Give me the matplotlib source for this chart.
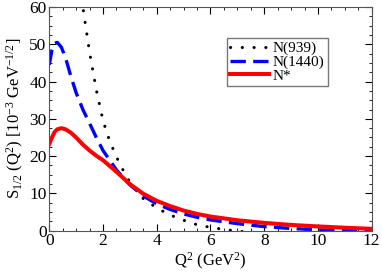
import numpy as np
import matplotlib.pyplot as plt
from matplotlib.ticker import MultipleLocator

plt.rcParams['font.family'] = 'Liberation Serif'
plt.rcParams['mathtext.fontset'] = 'custom'
plt.rcParams['mathtext.rm'] = 'Liberation Serif'
plt.rcParams['mathtext.it'] = 'Liberation Serif:italic'

# N(939), dotted black (goes off the top for small Q2)
q2_939 = [0.8, 1.0, 1.25, 1.5, 1.75, 2.0, 2.25, 2.5, 2.75, 3.0, 3.5, 4.0, 4.5, 5.0,
          5.5, 6.0, 6.5, 7.0, 8.0, 9.0, 10.0, 11.0, 12.0]
s_939 = [90, 75, 60, 47.8, 37.8, 29.5, 24.0, 19.8, 16.2, 13.0, 8.6, 6.1, 4.2, 2.8,
         1.6, 0.9, 0.35, -0.1, -0.7, -1.0, -1.2, -1.2, -1.2]

# N(1440), dashed blue
q2_1440 = [0, 0.1, 0.2, 0.3, 0.45, 0.6, 0.8, 1.0, 1.25, 1.5, 1.75, 2.0, 2.5, 3.0,
           3.5, 4.0, 4.5, 5.0, 5.5, 6.0, 7.0, 8.0, 9.0, 10.0, 11.0, 12.0]
s_1440 = [44.5, 48.5, 50.3, 50.5, 49.2, 46.5, 41.5, 37.0, 32.5, 28.8, 25.0, 21.5, 16.3, 12.3,
          9.3, 7.2, 5.7, 4.5, 3.6, 2.9, 1.9, 1.1, 0.6, 0.25, 0.0, -0.2]

# N*, solid red
q2_star = [0, 0.1, 0.2, 0.3, 0.45, 0.6, 0.8, 1.0, 1.25, 1.5, 1.75, 2.0, 2.5, 3.0,
           3.5, 4.0, 4.5, 5.0, 5.5, 6.0, 7.0, 8.0, 9.0, 10.0, 11.0, 12.0]
s_star = [23.3, 25.0, 26.5, 27.2, 27.5, 27.2, 26.3, 25.0, 23.1, 21.5, 20.1, 18.9, 15.8, 12.5,
          9.9, 8.0, 6.6, 5.4, 4.5, 3.8, 2.8, 2.1, 1.55, 1.15, 0.8, 0.5]

fig = plt.figure(figsize=(3.82, 2.74), dpi=100)
ax = fig.add_axes([0.129, 0.158, 0.844, 0.8165])

ax.plot(q2_939, s_939, color='black', lw=2.2, linestyle=(0, (0.05, 3.8)),
        dash_capstyle='round', label='N(939)')
ax.plot(q2_1440, s_1440, color='blue', lw=2.4, linestyle=(0, (4.6, 2.2)), label='N(1440)')
ax.plot(q2_star, s_star, color='red', lw=2.9, label='N*')

ax.set_xlim(0, 12)
ax.set_ylim(0, 60)
ax.xaxis.set_major_locator(MultipleLocator(2))
ax.xaxis.set_minor_locator(MultipleLocator(0.5))
ax.yaxis.set_major_locator(MultipleLocator(10))
ax.yaxis.set_minor_locator(MultipleLocator(2.5))
ax.tick_params(which='both', direction='in', top=True, right=True, labelsize=12.5, pad=2)
ax.tick_params(which='major', length=5)
ax.tick_params(which='minor', length=2.5)
for s in ax.spines.values():
    s.set_color('#555555')

ax.set_xlabel(r'Q$^{\mathrm{2}}$ (GeV$^{\mathrm{2}}$)', fontsize=12, labelpad=1)
ax.set_ylabel(r'S$_{\mathrm{1/2}}$ (Q$^{\mathrm{2}}$) [10$^{\mathrm{-3}}$ GeV$^{\mathrm{-1/2}}$]',
              fontsize=12, labelpad=2)

leg = ax.legend(loc='upper left', bbox_to_anchor=(0.551, 0.86), fontsize=11,
                frameon=True, fancybox=False, edgecolor='#555555', handlelength=2.55,
                handletextpad=0.25, borderpad=0.2, labelspacing=0.0, borderaxespad=0)
leg.get_frame().set_linewidth(1.0)

fig.savefig('out.png', dpi=100)
